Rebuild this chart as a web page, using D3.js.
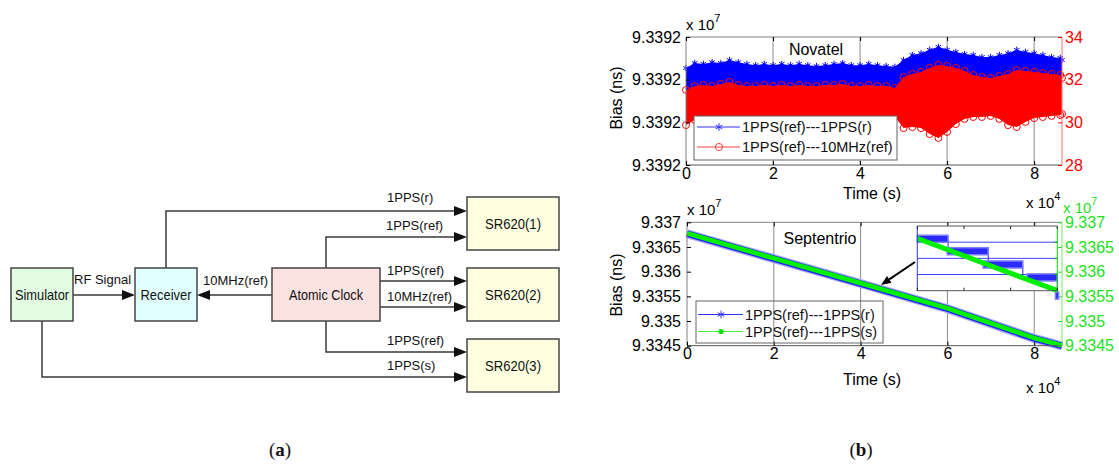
<!DOCTYPE html>
<html><head><meta charset="utf-8">
<script src="https://cdn.jsdelivr.net/npm/d3@7"></script>
<style>
body{margin:0;background:#fff;}
svg{display:block;}
</style></head><body>
<svg id="c" width="1119" height="466"></svg>
<script>
// ================= DATA =================
// (a) block diagram
const blockNames = ["Simulator","Receiver","Atomic Clock","SR620(1)","SR620(2)","SR620(3)"];
const signalNames = ["RF Signal","10MHz(ref)","1PPS(r)","1PPS(ref)","1PPS(ref)","10MHz(ref)","1PPS(ref)","1PPS(s)"];

// (b) top: Novatel   (time in 1e4 s)
const timeTicks = [0,2,4,6,8];
const timeMax = 8.64;
const novTime = [0,0.2,0.4,0.6,0.8,1.0,1.2,1.4,1.6,1.8,2.0,2.2,2.4,2.6,2.8,3.0,3.2,3.4,3.6,3.8,4.0,4.2,4.4,4.6,4.8,
                 5.0,5.2,5.4,5.6,5.8,6.0,6.2,6.4,6.6,6.8,7.0,7.2,7.4,7.6,7.8,8.0,8.2,8.4,8.6,8.64];
const novBase = 93392000; // ns, left axis values are offsets from this
const novBlueTop = [12.7,13.9,13.7,14.1,13.9,14.6,14.1,13.7,13.4,13.7,13.4,13.7,13.4,13.7,13.4,13.2,13.4,13.7,13.9,13.4,13.4,13.7,13.4,13.2,13.0,
                    14.6,15.8,16.2,17.0,17.7,17.0,16.5,16.0,15.8,15.3,15.3,15.8,16.2,17.0,16.5,16.2,15.8,15.3,15.1,14.6];
const novBlueBottom = [6.6,6.8,6.7,6.9,6.7,6.8,6.6,6.8,6.7,6.9,6.8,6.7,6.8,6.6,6.8,6.7,6.9,6.8,6.7,6.8,6.6,6.8,6.7,6.8,6.7,
                       7.0,7.1,7.0,7.2,7.1,7.0,6.9,7.0,6.8,6.9,7.0,6.8,6.9,7.0,6.8,6.7,6.6,6.5,6.4,6.4];
const novRedTop = [31.52,31.70,31.75,31.70,31.80,31.89,31.75,31.70,31.70,31.75,31.70,31.75,31.70,31.75,31.70,31.70,31.75,31.75,31.80,31.70,31.70,31.75,31.70,31.70,31.61,
                   32.12,32.27,32.36,32.55,32.69,32.64,32.55,32.41,32.22,32.12,32.08,32.17,32.27,32.45,32.41,32.36,32.31,32.27,32.22,32.08];
const novRedBottom = [29.87,30.11,30.18,30.22,30.15,30.10,30.20,30.22,30.20,30.18,30.20,30.22,30.20,30.18,30.20,30.22,30.20,30.25,30.30,30.25,30.30,30.25,30.30,30.25,30.25,
                      29.73,29.78,29.73,29.45,29.27,29.55,29.92,30.16,30.25,30.25,30.30,30.16,29.87,29.78,30.02,30.20,30.25,30.30,30.34,30.39];
const novLeftTicks = [-10,0,10,20];
const novRightTicks = [28,30,32,34];
const novLegend = ["1PPS(ref)---1PPS(r)","1PPS(ref)---10MHz(ref)"];

// (b) bottom: Septentrio
const sepTime = [0,2,4,6,8,8.64];
const sepGreen = [93367770,93362710,93357680,93352580,93346550,93345050];
const sepBlue  = [93367690,93362630,93357600,93352500,93346470,93344970];
const sepTicks = [93345000,93350000,93355000,93360000,93365000,93370000];
const sepLegend = ["1PPS(ref)---1PPS(r)","1PPS(ref)---1PPS(s)"];

// inset (zoomed detail)
const insetXTicks = [0,1,2,3];
const insetGrid = [1,2,3];
const insetStepStart = [0,0.64,1.41,2.35,2.96];
const insetStepEnd   = [0.66,1.52,2.26,3.0,3.03];
const insetStepLevel = [3.21,2.44,1.62,0.82,-0.3];
const insetGreenX = [0,3];
const insetGreenY = [3.24,0];

// ================= DRAW =================
const FONT = "'Liberation Sans', Arial, Helvetica, sans-serif";
const svg = d3.select("#c").attr("font-family", FONT);
const BLUE = "#0000ff", RED = "#ff0000", GREENTXT = "#22e022";

// ---------- (a) ----------
const boxGeom = [
  {x:11,y:268,w:62,h:53,fill:"#e2fce2",tl:54},
  {x:135,y:268,w:62,h:53,fill:"#e0ffff",tl:51},
  {x:272,y:268,w:108,h:53,fill:"#fde2e2",tl:74},
  {x:467,y:197,w:92,h:53,fill:"#fefee0",tl:56},
  {x:467,y:268,w:92,h:53,fill:"#fefee0",tl:56},
  {x:467,y:339,w:92,h:53,fill:"#fefee0",tl:56}
];
const wireGeom = [
  {pts:[[73,295],[135,295]], lx:74, ly:284, anchor:"start"},
  {pts:[[272,295],[197,295]], lx:268, ly:285, anchor:"end"},
  {pts:[[166,268],[166,211],[467,211]], lx:387, ly:202},
  {pts:[[326,268],[326,237],[467,237]], lx:386, ly:230},
  {pts:[[380,281],[467,281]], lx:387, ly:275},
  {pts:[[380,307],[467,307]], lx:387, ly:301},
  {pts:[[326,321],[326,352],[467,352]], lx:387, ly:345},
  {pts:[[42,321],[42,377],[467,377]], lx:387, ly:370}
];
const gA = svg.append("g");
wireGeom.forEach((w,i) => {
  const p = w.pts;
  const a = p[p.length-2], b = p[p.length-1];
  const ang = Math.atan2(b[1]-a[1], b[0]-a[0]);
  const L = 13, H = 5;
  const base = [b[0]-L*Math.cos(ang), b[1]-L*Math.sin(ang)];
  const linePts = p.slice(0,-1).concat([base]);
  gA.append("path").attr("d", d3.line()(linePts)).attr("fill","none").attr("stroke","#3a3a3a").attr("stroke-width",1.5);
  const tri = [b,
    [base[0]+H*Math.sin(ang), base[1]-H*Math.cos(ang)],
    [base[0]-H*Math.sin(ang), base[1]+H*Math.cos(ang)]];
  gA.append("path").attr("d", d3.line()(tri)+"Z").attr("fill","#111");
  gA.append("text").attr("x",w.lx).attr("y",w.ly).attr("font-size",13)
    .attr("text-anchor", w.anchor || "start").attr("fill","#111").text(signalNames[i]);
});
boxGeom.forEach((b,i) => {
  gA.append("rect").attr("x",b.x).attr("y",b.y).attr("width",b.w).attr("height",b.h)
    .attr("fill",b.fill).attr("stroke","#444").attr("stroke-width",1.5);
  gA.append("text").attr("x",b.x+b.w/2).attr("y",b.y+b.h/2+5.5).attr("text-anchor","middle")
    .attr("font-size",15).attr("fill","#111")
    .attr("textLength",b.tl).attr("lengthAdjust","spacingAndGlyphs").text(blockNames[i]);
});

// helpers
function styleAxis(g, color, size){
  g.attr("font-family", FONT).attr("font-size", size);
  g.select(".domain").remove();
  g.selectAll(".tick line").attr("stroke", color);
  g.selectAll(".tick text").attr("fill", color);
}
function expLabel(x, y, exp, color){
  const t = svg.append("text").attr("x",x).attr("y",y).attr("font-size",15).attr("fill",color);
  t.append("tspan").text("x 10");
  t.append("tspan").attr("dy",-8).attr("font-size",11).text(exp);
}
const ast = d3.symbolAsterisk || d3.symbolCross;

// ---------- (b) top : Novatel ----------
const xN = d3.scaleLinear().domain([0,timeMax]).range([686,1062]);
const yNL = d3.scaleLinear().domain([-10,20]).range([165,37]);
const yNR = d3.scaleLinear().domain([28,34]).range([165,37]);
const gN = svg.append("g");
gN.append("rect").attr("x",686).attr("y",37).attr("width",376).attr("height",128).attr("fill","#fff");
timeTicks.filter(t=>t>0).forEach(t => {
  gN.append("line").attr("x1",xN(t)).attr("x2",xN(t)).attr("y1",37).attr("y2",165).attr("stroke","#8a8a8a").attr("stroke-width",1);
});
const blueArea = d3.area().x((d,i)=>xN(novTime[i])).y0((d,i)=>yNL(novBlueBottom[i])).y1((d,i)=>yNL(novBlueTop[i]));
gN.append("path").attr("d", blueArea(novTime)).attr("fill",BLUE);
gN.selectAll(".bstar").data(novTime).enter().append("path")
  .attr("transform",(d,i)=>`translate(${xN(d)},${yNL(novBlueTop[i])})`)
  .attr("d", d3.symbol(ast, 28)()).attr("fill","none").attr("stroke",BLUE).attr("stroke-width",1);
const redArea = d3.area().x((d,i)=>xN(novTime[i])).y0((d,i)=>yNR(novRedBottom[i])).y1((d,i)=>yNR(novRedTop[i]));
gN.append("path").attr("d", redArea(novTime)).attr("fill",RED);
[novRedTop, novRedBottom].forEach(arr => {
  gN.selectAll(null).data(novTime).enter().append("circle")
    .attr("cx",d=>xN(d)).attr("cy",(d,i)=>yNR(arr[i])).attr("r",3.5)
    .attr("fill","none").attr("stroke",RED).attr("stroke-width",1);
});
// frame
gN.append("path").attr("d",`M686,165V37H1062`).attr("fill","none").attr("stroke","#808080");
gN.append("line").attr("x1",686).attr("x2",1062).attr("y1",165).attr("y2",165).attr("stroke","#555");
gN.append("line").attr("x1",1062).attr("x2",1062).attr("y1",37).attr("y2",165).attr("stroke","#ff7070");
styleAxis(gN.append("g").attr("transform","translate(686,0)")
  .call(d3.axisLeft(yNL).tickValues(novLeftTicks).tickSize(-4).tickPadding(5)
  .tickFormat(d=>((novBase+d)/1e7).toFixed(4))), "#000", 16);
styleAxis(gN.append("g").attr("transform","translate(1062,0)")
  .call(d3.axisRight(yNR).tickValues(novRightTicks).tickSize(-4).tickPadding(3).tickFormat(d3.format("d"))), RED, 16);
styleAxis(gN.append("g").attr("transform","translate(0,165)")
  .call(d3.axisBottom(xN).tickValues(timeTicks).tickSize(-4).tickPadding(3)), "#000", 16);
styleAxis(gN.append("g").attr("transform","translate(0,37)")
  .call(d3.axisTop(xN).tickValues(timeTicks).tickSize(-4).tickFormat("")), "#000", 16);
gN.append("text").attr("x",816).attr("y",55).attr("text-anchor","middle").attr("font-size",16).text("Novatel");
// legend
const lgN = gN.append("g");
lgN.append("rect").attr("x",694).attr("y",116).attr("width",203).attr("height",44).attr("fill","#fff").attr("stroke","#666");
[[127,"#3030ff"],[147,"#ff4040"]].forEach((e,i)=>{
  lgN.append("line").attr("x1",697).attr("x2",740).attr("y1",e[0]).attr("y2",e[0]).attr("stroke",e[1]).attr("stroke-width",1);
  if(i===0) lgN.append("path").attr("transform",`translate(719,${e[0]})`).attr("d",d3.symbol(ast,40)()).attr("fill","none").attr("stroke",e[1]);
  else lgN.append("circle").attr("cx",719).attr("cy",e[0]).attr("r",3.6).attr("fill","none").attr("stroke",e[1]);
  lgN.append("text").attr("x",742).attr("y",e[0]+5).attr("font-size",14.5).attr("fill","#111").text(novLegend[i]);
});
svg.append("text").attr("transform","translate(622,98) rotate(-90)").attr("text-anchor","middle").attr("font-size",16).text("Bias (ns)");
svg.append("text").attr("x",872).attr("y",199).attr("text-anchor","middle").attr("font-size",16).text("Time (s)");
expLabel(686,30,"7","#000");
expLabel(1026,208,"4","#000");

// ---------- (b) bottom : Septentrio ----------
const xS = d3.scaleLinear().domain([0,timeMax]).range([687,1062]);
const yS = d3.scaleLinear().domain([93345000,93370000]).range([345.7,222.3]);
const gS = svg.append("g");
timeTicks.filter(t=>t>0).forEach(t => {
  gS.append("line").attr("x1",xS(t)).attr("x2",xS(t)).attr("y1",222.3).attr("y2",345.7).attr("stroke","#8a8a8a");
});
const sepLineB = d3.line().x((d,i)=>xS(sepTime[i])).y(d=>yS(d));
gS.append("path").attr("d",sepLineB(sepBlue)).attr("fill","none").attr("stroke","#a8a8ff").attr("stroke-width",9);
gS.append("path").attr("d",sepLineB(sepBlue)).attr("fill","none").attr("stroke","#1c1cff").attr("stroke-width",6.5);
gS.append("path").attr("d",sepLineB(sepGreen)).attr("fill","none").attr("stroke","#00f000").attr("stroke-width",4.8);
gS.append("path").attr("d",`M687,345.7V222.3H1062`).attr("fill","none").attr("stroke","#808080");
gS.append("line").attr("x1",687).attr("x2",1062).attr("y1",345.7).attr("y2",345.7).attr("stroke","#555");
gS.append("line").attr("x1",1062).attr("x2",1062).attr("y1",222.3).attr("y2",345.7).attr("stroke","#66f066");
const sepFmt = d => String(+(d/1e7).toFixed(4));
styleAxis(gS.append("g").attr("transform","translate(687,0)")
  .call(d3.axisLeft(yS).tickValues(sepTicks).tickSize(-4).tickPadding(6).tickFormat(sepFmt)), "#000", 16);
styleAxis(gS.append("g").attr("transform","translate(1062,0)")
  .call(d3.axisRight(yS).tickValues(sepTicks).tickSize(-4).tickPadding(3).tickFormat(sepFmt)), GREENTXT, 16);
styleAxis(gS.append("g").attr("transform","translate(0,345.7)")
  .call(d3.axisBottom(xS).tickValues(timeTicks).tickSize(-4).tickPadding(2)), "#000", 16);
styleAxis(gS.append("g").attr("transform","translate(0,222.3)")
  .call(d3.axisTop(xS).tickValues(timeTicks).tickSize(-4).tickFormat("")), "#000", 16);
gS.append("text").attr("x",820).attr("y",244).attr("text-anchor","middle").attr("font-size",16).text("Septentrio");
// legend (transparent)
const lgS = gS.append("g");
lgS.append("rect").attr("x",696).attr("y",301).attr("width",187).attr("height",42).attr("fill","none").attr("stroke","#666");
[[314.5,"#3030ff"],[331.5,"#40f040"]].forEach((e,i)=>{
  lgS.append("line").attr("x1",698).attr("x2",743).attr("y1",e[0]).attr("y2",e[0]).attr("stroke",e[1]).attr("stroke-width",1);
  if(i===0) lgS.append("path").attr("transform",`translate(721,${e[0]})`).attr("d",d3.symbol(ast,40)()).attr("fill","none").attr("stroke",e[1]);
  else lgS.append("circle").attr("cx",721).attr("cy",e[0]).attr("r",2.6).attr("fill","#00e000");
  lgS.append("text").attr("x",745).attr("y",e[0]+5).attr("font-size",14.5).attr("fill","#111").text(sepLegend[i]);
});
svg.append("text").attr("transform","translate(622,285) rotate(-90)").attr("text-anchor","middle").attr("font-size",16).text("Bias (ns)");
svg.append("text").attr("x",872).attr("y",385).attr("text-anchor","middle").attr("font-size",16).text("Time (s)");
expLabel(687,215,"7","#000");
expLabel(1063,213,"7",GREENTXT);
expLabel(1026,393,"4","#000");

// inset
const ix = d3.scaleLinear().domain([0,3]).range([917.3,1057.3]);
const iy = d3.scaleLinear().domain([0,4]).range([290.7,226]);
const gI = svg.append("g");
gI.append("rect").attr("x",ix(0)).attr("y",iy(4)).attr("width",ix(3)-ix(0)).attr("height",iy(0)-iy(4)).attr("fill","#fff");
insetGrid.forEach(v => gI.append("line").attr("x1",ix(0)).attr("x2",ix(3)).attr("y1",iy(v)).attr("y2",iy(v)).attr("stroke","#4040ff").attr("stroke-width",1));
const stepPts = [];
insetStepStart.forEach((s,i)=>{ stepPts.push([ix(s),iy(insetStepLevel[i])]); stepPts.push([ix(insetStepEnd[i]),iy(insetStepLevel[i])]); });
gI.append("path").attr("d",d3.line().curve(d3.curveStepBefore)(stepPts)).attr("fill","none").attr("stroke","#2020ff").attr("stroke-width",1);
insetStepStart.forEach((s,i)=>{
  gI.append("rect").attr("x",ix(s)).attr("y",iy(insetStepLevel[i]+0.22)).attr("width",ix(insetStepEnd[i])-ix(s))
    .attr("height",iy(insetStepLevel[i]-0.22)-iy(insetStepLevel[i]+0.22))
    .attr("fill","#2a2aff").attr("stroke","#8080ff").attr("stroke-width",1.5);
});
gI.append("path").attr("d",d3.line().x((d,i)=>ix(insetGreenX[i])).y(d=>iy(d))(insetGreenY))
  .attr("fill","none").attr("stroke","#00ee00").attr("stroke-width",5);
gI.append("line").attr("x1",ix(0)).attr("x2",ix(3)).attr("y1",iy(4)).attr("y2",iy(4)).attr("stroke","#555");
gI.append("line").attr("x1",ix(0)).attr("x2",ix(3)).attr("y1",iy(0)).attr("y2",iy(0)).attr("stroke","#555");
gI.append("line").attr("x1",ix(0)).attr("x2",ix(0)).attr("y1",iy(4)).attr("y2",iy(0)).attr("stroke","#3030ff");
gI.append("line").attr("x1",ix(3)).attr("x2",ix(3)).attr("y1",iy(4)).attr("y2",iy(0)).attr("stroke","#00dd00");
insetXTicks.forEach(t=>{
  gI.append("line").attr("x1",ix(t)).attr("x2",ix(t)).attr("y1",iy(4)).attr("y2",iy(4)+3).attr("stroke","#222");
  gI.append("line").attr("x1",ix(t)).attr("x2",ix(t)).attr("y1",iy(0)).attr("y2",iy(0)-3).attr("stroke","#222");
});
insetGrid.forEach(v => gI.append("line").attr("x1",ix(3)).attr("x2",ix(3)-3).attr("y1",iy(v)).attr("y2",iy(v)).attr("stroke","#00c000"));
// pointer arrow
(function(){
  const a=[915,262], b=[881,285];
  const ang=Math.atan2(b[1]-a[1],b[0]-a[0]); const L=10,H=4;
  const base=[b[0]-L*Math.cos(ang), b[1]-L*Math.sin(ang)];
  svg.append("line").attr("x1",a[0]).attr("y1",a[1]).attr("x2",base[0]).attr("y2",base[1]).attr("stroke","#000").attr("stroke-width",2);
  svg.append("path").attr("d",d3.line()([b,[base[0]+H*Math.sin(ang),base[1]-H*Math.cos(ang)],[base[0]-H*Math.sin(ang),base[1]+H*Math.cos(ang)]])+"Z").attr("fill","#000");
})();

// panel labels
[["a",280],["b",861]].forEach(p=>{
  const t = svg.append("text").attr("x",p[1]).attr("y",456).attr("text-anchor","middle")
    .attr("font-family","'Liberation Serif','Times New Roman',serif").attr("font-size",19).attr("fill","#111");
  t.append("tspan").text("(");
  t.append("tspan").attr("font-weight","bold").text(p[0]);
  t.append("tspan").text(")");
});
</script>
</body></html>
